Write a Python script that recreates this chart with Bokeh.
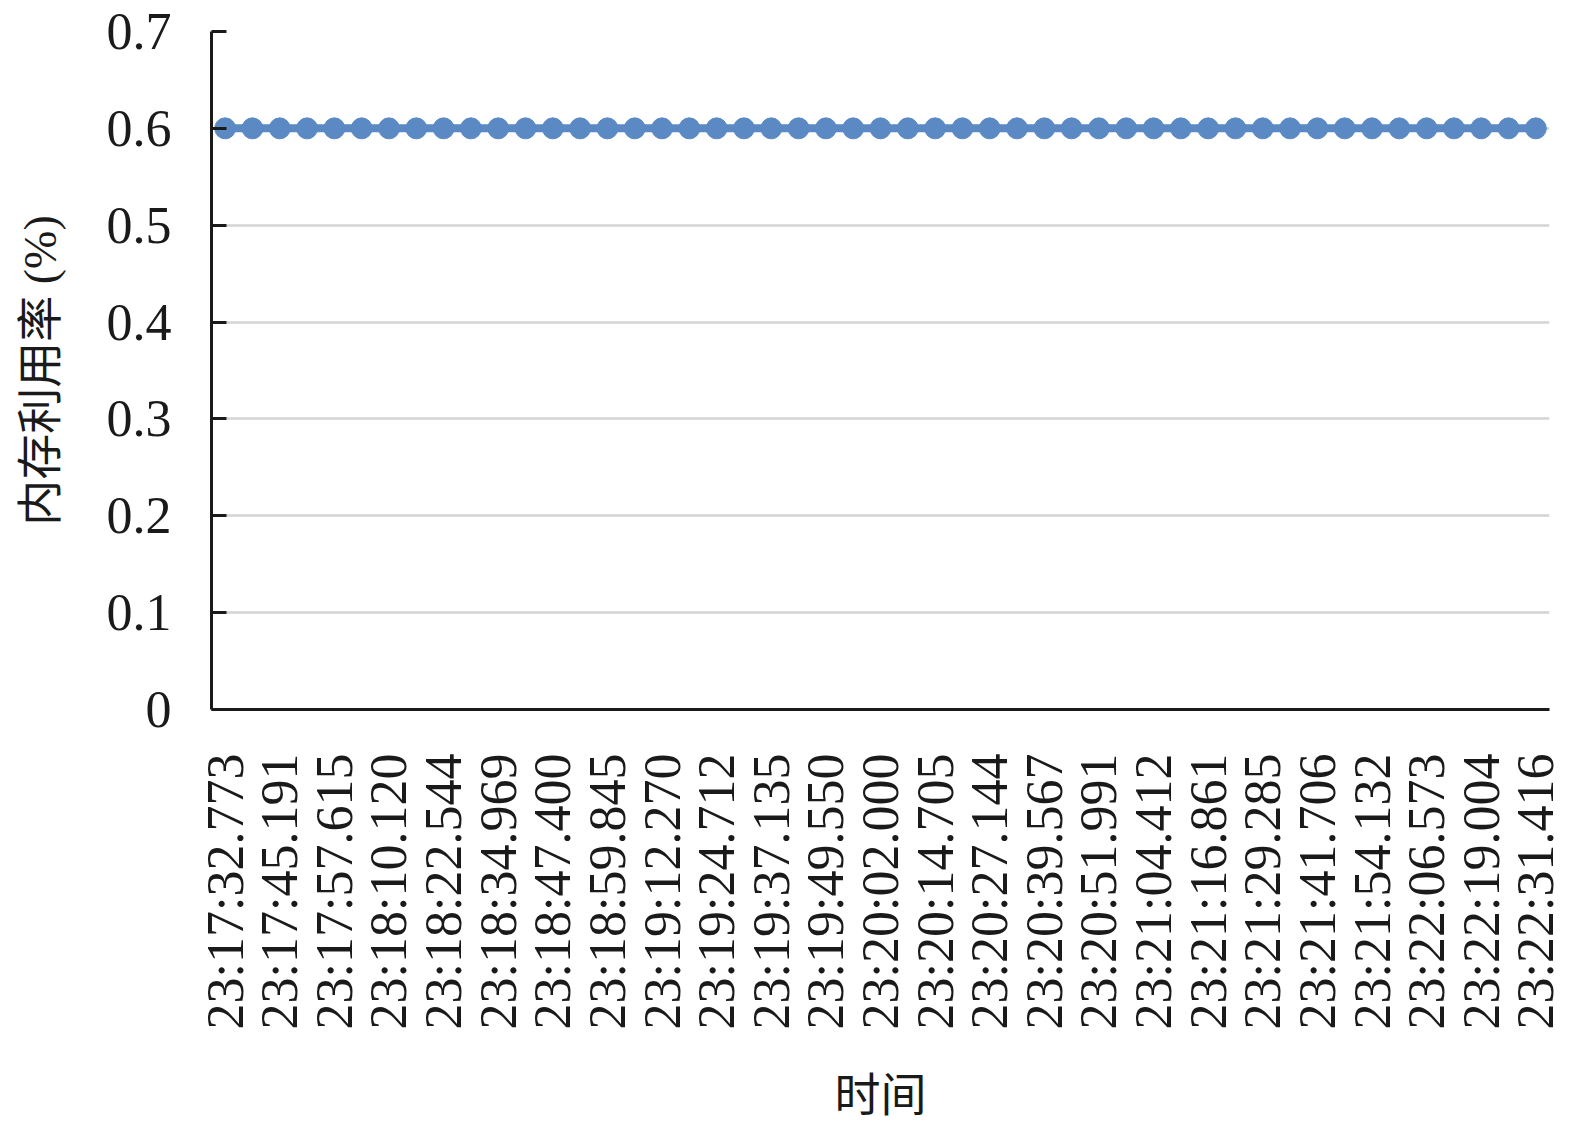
import math
from bokeh.plotting import figure
from bokeh.models import FixedTicker, Range1d, ColumnDataSource
from bokeh.embed import file_html
from bokeh.resources import INLINE

# ---- data ----
times = [
    "23:17:32.773", "23:17:38.982", "23:17:45.191", "23:17:51.403", "23:17:57.615",
    "23:18:03.868", "23:18:10.120", "23:18:16.332", "23:18:22.544", "23:18:28.757",
    "23:18:34.969", "23:18:41.185", "23:18:47.400", "23:18:53.623", "23:18:59.845",
    "23:19:06.058", "23:19:12.270", "23:19:18.491", "23:19:24.712", "23:19:30.924",
    "23:19:37.135", "23:19:43.343", "23:19:49.550", "23:19:55.775", "23:20:02.000",
    "23:20:08.353", "23:20:14.705", "23:20:20.925", "23:20:27.144", "23:20:33.356",
    "23:20:39.567", "23:20:45.779", "23:20:51.991", "23:20:58.202", "23:21:04.412",
    "23:21:10.637", "23:21:16.861", "23:21:23.073", "23:21:29.285", "23:21:35.496",
    "23:21:41.706", "23:21:47.919", "23:21:54.132", "23:22:00.353", "23:22:06.573",
    "23:22:12.789", "23:22:19.004", "23:22:25.210", "23:22:31.416",
]
memory_usage = [
    0.6, 0.6, 0.6, 0.6, 0.6, 0.6, 0.6, 0.6, 0.6, 0.6,
    0.6, 0.6, 0.6, 0.6, 0.6, 0.6, 0.6, 0.6, 0.6, 0.6,
    0.6, 0.6, 0.6, 0.6, 0.6, 0.6, 0.6, 0.6, 0.6, 0.6,
    0.6, 0.6, 0.6, 0.6, 0.6, 0.6, 0.6, 0.6, 0.6, 0.6,
    0.6, 0.6, 0.6, 0.6, 0.6, 0.6, 0.6, 0.6, 0.6,
]
y_ticks = [0, 0.1, 0.2, 0.3, 0.4, 0.5, 0.6, 0.7]
y_tick_labels = ["0", "0.1", "0.2", "0.3", "0.4", "0.5", "0.6", "0.7"]
x_title = "时间"
y_title = "内存利用率 (%)"

idx = list(range(len(times)))
src = ColumnDataSource(dict(x=idx, y=memory_usage, t=times))

SERIF = "Liberation Serif"
TITLE_FONT = "'Liberation Serif', 'Noto Sans CJK SC'"
BLUE = "#5A89C4"
INK = "#1a1a1a"

p = figure(width=1567, height=1124, output_backend="svg", toolbar_location=None,
           x_range=Range1d(-0.5, len(times) - 0.5), y_range=Range1d(0, 0.7),
           min_border_left=211, min_border_right=18, min_border_top=31,
           min_border_bottom=408)
p.outline_line_color = None
p.background_fill_color = "white"
p.border_fill_color = "white"

p.line("x", "y", source=src, line_color=BLUE, line_width=8)
p.scatter("x", "y", source=src, size=21, fill_color=BLUE, line_color=BLUE)

# grid
p.xgrid.visible = False
p.ygrid.ticker = FixedTicker(ticks=y_ticks)
p.ygrid.grid_line_color = "#d4d4d4"
p.ygrid.grid_line_width = 2.5

# y axis
ya = p.yaxis[0]
ya.ticker = FixedTicker(ticks=y_ticks)
ya.major_label_overrides = {v: s for v, s in zip(y_ticks, y_tick_labels)}
ya.axis_line_color = INK
ya.axis_line_width = 3
ya.major_tick_line_color = INK
ya.major_tick_line_width = 3
ya.major_tick_in = 15
ya.major_tick_out = 0
ya.minor_tick_line_color = None
ya.major_label_text_font = SERIF
ya.major_label_text_font_size = "52px"
ya.major_label_text_color = INK
ya.major_label_standoff = 40
ya.axis_label = y_title
ya.axis_label_text_font = TITLE_FONT
ya.axis_label_text_font_size = "46px"
ya.axis_label_text_font_style = "normal"
ya.axis_label_text_color = INK
ya.axis_label_standoff = 38

# x axis
xa = p.xaxis[0]
xa.ticker = FixedTicker(ticks=idx[::2])
xa.major_label_overrides = {i: times[i] for i in idx[::2]}
xa.major_label_orientation = math.pi / 2
xa.axis_line_color = INK
xa.axis_line_width = 3
xa.major_tick_line_color = None
xa.minor_tick_line_color = None
xa.major_tick_in = 0
xa.major_tick_out = 0
xa.major_label_text_font = SERIF
xa.major_label_text_font_size = "52px"
xa.major_label_text_color = INK
xa.major_label_standoff = 44
xa.axis_label = x_title
xa.axis_label_text_font = TITLE_FONT
xa.axis_label_text_font_size = "46px"
xa.axis_label_text_font_style = "normal"
xa.axis_label_text_color = INK
xa.axis_label_standoff = 38

open("out.html", "w").write(file_html(p, INLINE))
